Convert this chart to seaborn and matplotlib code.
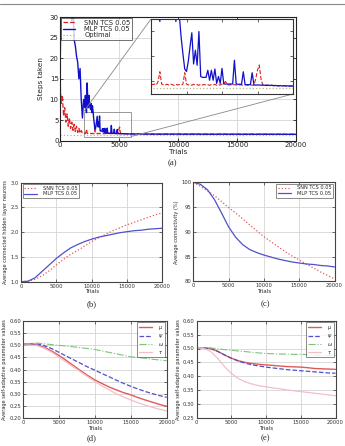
import numpy as np
import pandas as pd
import matplotlib
matplotlib.use("Agg")
import matplotlib.pyplot as plt
import seaborn as sns
from matplotlib.lines import Line2D
from mpl_toolkits.axes_grid1.inset_locator import mark_inset

# ---------------- data: panel (a) ----------------
trials_a_early = np.arange(0, 2001, 100)
trials_a_mid = np.arange(2050, 6001, 50)
trials_a_tail = np.arange(6500, 20001, 500)

mlp_steps_early = [15.5, 35, 35, 35, 35, 35, 35, 35, 35, 35, 29, 33, 24.5, 23, 20.5, 19, 15, 17.5, 10, 5.5, 10]
mlp_steps_mid = [9, 8, 11, 7.5, 6.8, 14, 10, 8, 11, 9, 8, 7.5, 9, 6.8, 8.5, 7.2, 5.5, 4.2, 3.0, 2.8,
                 3.6, 4.8, 5.9, 3.4, 4.5, 3.3, 6.0, 2.4, 2.33, 2.33, 2.33, 2.9, 2.1, 2.9, 2.1, 3.0, 1.85, 2.4, 1.85, 3.05,
                 1.8, 1.8, 1.8, 1.8, 1.8, 1.8, 3.7, 1.8, 1.78, 1.78, 1.78, 2.78, 1.75, 1.75, 1.75, 1.75, 2.7, 1.72, 1.72, 1.72,
                 1.72, 1.7, 1.72, 1.7, 1.68, 1.7, 1.68, 1.7, 1.66, 1.68, 1.66, 1.65, 1.67, 1.64, 1.66, 1.64, 1.65, 1.63, 1.64, 1.63]
mlp_steps_tail = [1.62, 1.6, 1.62, 1.6, 1.58, 1.6, 1.58, 1.6, 1.57, 1.58, 1.6, 1.57, 1.58, 1.56, 1.58, 1.57,
                  1.56, 1.58, 1.56, 1.57, 1.55, 1.57, 1.56, 1.55, 1.57, 1.55, 1.56, 1.55]

snn_steps_early = [14.7, 9, 11, 6, 8, 4.5, 6.5, 3.5, 5.5, 3, 4.5, 2.5, 4, 2.2, 3.5, 2, 3, 1.8, 2.5, 1.8, 1.8]
snn_steps_mid = [1.75, 1.8, 1.72, 2.0, 2.78, 1.8, 1.75, 1.72, 1.78, 1.72, 1.8, 1.74, 1.7, 1.78, 1.72, 1.75, 1.7, 1.8, 2.7, 1.8,
                 1.72, 1.75, 1.7, 1.78, 1.72, 1.75, 1.7, 1.78, 1.72, 1.76, 1.72, 1.74, 1.7, 1.75, 1.72, 1.78, 1.7, 1.74, 1.72, 1.8,
                 1.85, 2.0, 1.75, 1.72, 1.74, 1.7, 1.75, 1.72, 1.7, 1.74, 1.72, 1.7, 1.74, 1.72, 1.7, 1.74, 1.7, 1.72, 2.2, 2.9,
                 3.32, 2.2, 1.72, 1.7, 1.72, 1.7, 1.68, 1.7, 1.68, 1.7, 1.68, 1.66, 1.68, 1.66, 1.67, 1.65, 1.66, 1.64, 1.65, 1.64]
snn_steps_tail = [1.63, 1.62, 1.6, 1.62, 1.6, 1.61, 1.59, 1.6, 1.62, 1.59, 1.6, 1.58, 1.6, 1.59, 1.58, 1.6,
                  1.58, 1.59, 1.57, 1.59, 1.58, 1.57, 1.59, 1.57, 1.58, 1.57, 1.58, 1.56]
optimal_steps = 1.45

# ---------------- data: panels (b)-(e) ----------------
trials_c = np.arange(0, 20001, 1000)
hidden_snn = [1.00, 1.01, 1.05, 1.12, 1.22, 1.34, 1.45, 1.55, 1.63, 1.72, 1.81, 1.89, 1.96, 2.03, 2.09, 2.15, 2.2, 2.25, 2.3, 2.35, 2.39]
hidden_mlp = [1.0, 1.01, 1.08, 1.21, 1.34, 1.47, 1.58, 1.68, 1.75, 1.81, 1.86, 1.9, 1.93, 1.96, 1.99, 2.01, 2.03, 2.04, 2.06, 2.07, 2.08]
conn_snn = [100, 99.2, 98.3, 97.3, 96.1, 94.9, 93.8, 92.6, 91.4, 90.2, 89.0, 88.0, 87.0, 86.0, 85.1, 84.3, 83.5, 82.7, 81.9, 81.2, 80.5]
conn_mlp = [100, 99.6, 98.5, 96.5, 93.8, 91.0, 88.9, 87.4, 86.4, 85.8, 85.3, 84.9, 84.5, 84.2, 83.9, 83.7, 83.5, 83.4, 83.2, 83.1, 82.9]

d_mu = [0.503, 0.503, 0.5, 0.49, 0.475, 0.457, 0.437, 0.416, 0.395, 0.375, 0.357, 0.342, 0.328, 0.316, 0.305, 0.296, 0.285, 0.275, 0.266, 0.257, 0.249]
d_psi = [0.505, 0.505, 0.505, 0.497, 0.485, 0.47, 0.455, 0.44, 0.425, 0.41, 0.397, 0.383, 0.37, 0.356, 0.343, 0.331, 0.32, 0.31, 0.301, 0.293, 0.286]
d_omega = [0.505, 0.507, 0.508, 0.505, 0.502, 0.499, 0.496, 0.493, 0.489, 0.486, 0.482, 0.476, 0.47, 0.464, 0.458, 0.452, 0.449, 0.446, 0.442, 0.439, 0.436]
d_tau = [0.5, 0.5, 0.497, 0.486, 0.47, 0.45, 0.43, 0.41, 0.39, 0.37, 0.35, 0.332, 0.316, 0.3, 0.287, 0.275, 0.264, 0.254, 0.245, 0.237, 0.23]

e_mu = [0.502, 0.502, 0.5, 0.49, 0.477, 0.465, 0.456, 0.45, 0.446, 0.443, 0.441, 0.439, 0.437, 0.435, 0.434, 0.433, 0.431, 0.428, 0.427, 0.426, 0.425]
e_psi = [0.502, 0.502, 0.5, 0.49, 0.477, 0.465, 0.455, 0.447, 0.441, 0.437, 0.433, 0.43, 0.427, 0.424, 0.422, 0.42, 0.418, 0.416, 0.414, 0.412, 0.411]
e_omega = [0.503, 0.503, 0.502, 0.499, 0.496, 0.494, 0.491, 0.489, 0.486, 0.484, 0.482, 0.481, 0.48, 0.48, 0.479, 0.479, 0.478, 0.477, 0.476, 0.476, 0.475]
e_tau = [0.502, 0.5, 0.49, 0.465, 0.435, 0.41, 0.392, 0.38, 0.372, 0.366, 0.362, 0.358, 0.355, 0.351, 0.348, 0.345, 0.342, 0.339, 0.336, 0.333, 0.33]

series_labels = ["SNN TCS 0.05", "MLP TCS 0.05", "Optimal"]
param_labels = [r"$\mu$", r"$\psi$", r"$\omega$", r"$\tau$"]
x_ticks = [0, 5000, 10000, 15000, 20000]

# ---------------- style ----------------
sns.set_style("whitegrid")
plt.rcParams["font.family"] = ["DejaVu Sans"]
plt.rcParams["axes.edgecolor"] = "#333333"
plt.rcParams["grid.color"] = "#d4d4d4"
plt.rcParams["grid.linewidth"] = 0.6

W, H = 345, 446
fig = plt.figure(figsize=(W / 100, H / 100), dpi=100)

def rect(l, t, r, b):
    return [l / W, 1 - b / H, (r - l) / W, (b - t) / H]

RED_A = "#dd2020"
BLUE_A = "#1010cc"
RED = "#e05a5a"
BLUE = "#5050cc"
GREEN = "#80c080"
PINK = "#f0c0c8"

# ---------------- panel (a) ----------------
ta = np.concatenate([trials_a_early, trials_a_mid, trials_a_tail])
mlp_a = np.array(mlp_steps_early + mlp_steps_mid + mlp_steps_tail)
snn_a = np.array(snn_steps_early + snn_steps_mid + snn_steps_tail)

ax_a = fig.add_axes(rect(60, 17, 296, 140.7))
sns.lineplot(x=ta, y=snn_a, ax=ax_a, color=RED_A, linestyle="--", linewidth=0.9, label=series_labels[0])
sns.lineplot(x=ta, y=mlp_a, ax=ax_a, color=BLUE_A, linestyle="-", linewidth=1.0, label=series_labels[1])
sns.lineplot(x=[0, 20000], y=[optimal_steps, optimal_steps], ax=ax_a, color="#b8b890",
             linestyle=":", linewidth=0.9, label=series_labels[2])
ax_a.set_xlim(0, 20000)
ax_a.set_ylim(0, 30)
ax_a.set_xticks(x_ticks)
ax_a.set_yticks([0, 5, 10, 15, 20, 25, 30])
ax_a.tick_params(direction="in", top=True, right=True, bottom=True, left=True, length=2.5,
                 width=0.6, labelsize=5.0, pad=1.0, colors="#222222")
ax_a.set_xlabel("Trials", fontsize=5.2, labelpad=0, va="center")
ax_a.xaxis.set_label_coords(0.5, -0.095)
ax_a.set_ylabel("Steps taken", fontsize=5.2, labelpad=4, family=["Liberation Sans Narrow", "DejaVu Sans"])
for s in ax_a.spines.values():
    s.set_linewidth(0.8)
    s.set_color("#222222")
leg = ax_a.legend(loc="upper left", fontsize=4.9, frameon=True, fancybox=False, borderpad=0.2,
                  labelspacing=0.05, handlelength=1.8, borderaxespad=0.2, handletextpad=1.4)
leg.get_frame().set_edgecolor("#333333")
leg.get_frame().set_linewidth(0.6)

ax_in = fig.add_axes(rect(151, 19, 293, 94))
ax_in.set_facecolor("white")
sns.lineplot(x=ta, y=snn_a, ax=ax_in, color=RED_A, linestyle="--", linewidth=0.8, legend=False)
sns.lineplot(x=ta, y=mlp_a, ax=ax_in, color=BLUE_A, linestyle="-", linewidth=0.9, legend=False)
sns.lineplot(x=[0, 20000], y=[optimal_steps, optimal_steps], ax=ax_in, color="#b8b890",
             linestyle=":", linewidth=0.9, legend=False)
ax_in.set_xlim(2000, 6000)
ax_in.set_ylim(1.0, 7.0)
ax_in.grid(False)
ax_in.set_xticks([3000, 4000, 5000])
ax_in.set_yticks([2, 4, 6])
ax_in.set_xticklabels([])
ax_in.set_yticklabels([])
ax_in.set_xlabel("")
ax_in.set_ylabel("")
ax_in.tick_params(direction="in", top=True, right=True, bottom=True, left=True, length=2, width=0.5)
for s in ax_in.spines.values():
    s.set_linewidth(0.8)
    s.set_color("#333333")
mark_inset(ax_a, ax_in, loc1=2, loc2=4, fc="none", ec="#888888", lw=0.6)

# ---------------- helper for small panels ----------------
def small_axes(box, ylim, yticks, yfmt, ylabel):
    ax = fig.add_axes(rect(*box))
    ax.set_xlim(0, 20000)
    ax.set_ylim(*ylim)
    ax.set_xticks(x_ticks)
    ax.set_yticks(yticks)
    ax.set_yticklabels([yfmt.format(v) for v in yticks])
    ax.tick_params(direction="in", top=True, right=True, bottom=True, left=True, length=2,
                   width=0.5, labelsize=3.8, pad=1.5, colors="#333333")
    ax.set_ylabel(ylabel, fontsize=3.6, labelpad=1.5, family=["Liberation Sans Narrow", "DejaVu Sans"])
    for s in ax.spines.values():
        s.set_linewidth(0.8)
        s.set_color("#444444")
    return ax

def finish(ax, loc):
    ax.set_xlabel("Trials", fontsize=4.0, labelpad=0.5)
    lg = ax.legend(loc=loc, fontsize=3.6, frameon=True, fancybox=False, borderpad=0.3,
                   labelspacing=0.15, handlelength=2.6, borderaxespad=0.3, handletextpad=1.2)
    lg.get_frame().set_edgecolor("#555555")
    lg.get_frame().set_linewidth(0.6)
    return lg

# (b)
ax_b = small_axes((21, 182.7, 162.3, 281.7), (1.0, 3.0), [1.0, 1.5, 2.0, 2.5, 3.0], "{:.1f}",
                  "Average connected hidden layer neurons")
sns.lineplot(x=trials_c, y=hidden_snn, ax=ax_b, color=RED, linestyle=":", linewidth=0.9, label=series_labels[0])
sns.lineplot(x=trials_c, y=hidden_mlp, ax=ax_b, color=BLUE, linestyle="-", linewidth=0.9, label=series_labels[1])
finish(ax_b, "upper left")

# (c)
ax_c = small_axes((193.3, 182.3, 334.5, 281.3), (80, 100), [80, 85, 90, 95, 100], "{:d}",
                  "Average connectivity (%)")
sns.lineplot(x=trials_c, y=conn_snn, ax=ax_c, color=RED, linestyle=":", linewidth=0.9, label=series_labels[0])
sns.lineplot(x=trials_c, y=conn_mlp, ax=ax_c, color=BLUE, linestyle="-", linewidth=0.9, label=series_labels[1])
finish(ax_c, "upper right")

# (d)
ax_d = small_axes((23.3, 320.7, 166.7, 418.3), (0.20, 0.60),
                  [0.20, 0.25, 0.30, 0.35, 0.40, 0.45, 0.50, 0.55, 0.60], "{:.2f}",
                  "Average self-adaptive parameter values")
sns.lineplot(x=trials_c, y=d_mu, ax=ax_d, color=RED, linestyle="-", linewidth=1.0, label=param_labels[0])
sns.lineplot(x=trials_c, y=d_psi, ax=ax_d, color=BLUE, linestyle="--", linewidth=0.9, label=param_labels[1])
sns.lineplot(x=trials_c, y=d_omega, ax=ax_d, color=GREEN, linestyle="-.", linewidth=0.8, label=param_labels[2])
sns.lineplot(x=trials_c, y=d_tau, ax=ax_d, color=PINK, linestyle="-", linewidth=0.9, label=param_labels[3])
finish(ax_d, "upper right")

# (e)
ax_e = small_axes((196.7, 320.7, 335.5, 418), (0.25, 0.60),
                  [0.25, 0.30, 0.35, 0.40, 0.45, 0.50, 0.55, 0.60], "{:.2f}",
                  "Average self-adaptive parameter values")
sns.lineplot(x=trials_c, y=e_mu, ax=ax_e, color=RED, linestyle="-", linewidth=1.0, label=param_labels[0])
sns.lineplot(x=trials_c, y=e_psi, ax=ax_e, color=BLUE, linestyle="--", linewidth=0.9, label=param_labels[1])
sns.lineplot(x=trials_c, y=e_omega, ax=ax_e, color=GREEN, linestyle="-.", linewidth=0.8, label=param_labels[2])
sns.lineplot(x=trials_c, y=e_tau, ax=ax_e, color=PINK, linestyle="-", linewidth=0.9, label=param_labels[3])
finish(ax_e, "upper right")

# ---------------- captions and page rule ----------------
cap_font = dict(fontsize=6.2, family=["Liberation Serif", "DejaVu Serif"], ha="center", va="center")
fig.text(172 / W, 1 - 163 / H, "(a)", **cap_font)
fig.text(92 / W, 1 - 304 / H, "(b)", **cap_font)
fig.text(265 / W, 1 - 304 / H, "(c)", **cap_font)
fig.text(92 / W, 1 - 438 / H, "(d)", **cap_font)
fig.text(265 / W, 1 - 438 / H, "(e)", **cap_font)
fig.add_artist(Line2D([0, 1], [1 - 4.3 / H, 1 - 4.3 / H], transform=fig.transFigure,
                      color="#888888", linewidth=0.8))

fig.savefig("out.png", dpi=100, facecolor="white")
